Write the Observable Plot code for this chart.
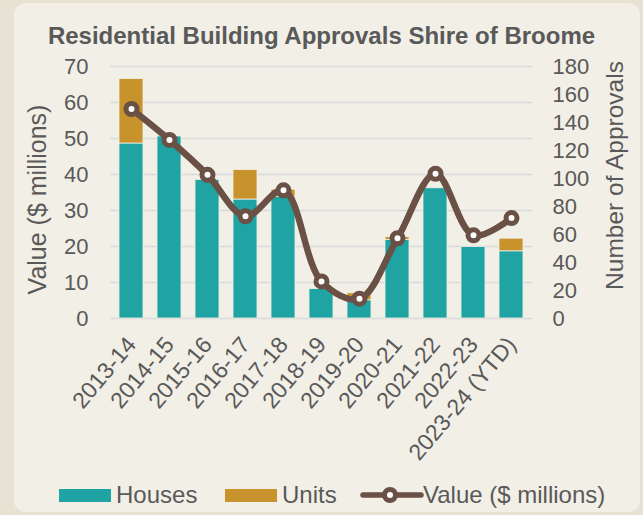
<!DOCTYPE html>
<html>
<head>
<meta charset="utf-8">
<script src="https://cdn.jsdelivr.net/npm/d3@7"></script>
<script src="https://cdn.jsdelivr.net/npm/@observablehq/plot@0.6"></script>
<style>
  html, body { margin: 0; padding: 0; }
  body { width: 643px; height: 515px; overflow: hidden; background: #E8E2D4; position: relative;
         font-family: "Liberation Sans", Arial, sans-serif; color: #595959; }
  #panel { position: absolute; left: 14px; top: 3px; width: 626px; height: 509px; background: #F2EFE7; border-radius: 12px; }
  #title { position: absolute; left: 0; top: 22px; width: 643px; text-align: center; font-weight: bold; font-size: 24px; line-height: 28px; }
  #chart { position: absolute; left: 0; top: 50px; }
  .lg { position: absolute; font-size: 24px; line-height: 26px; top: 482px; }
  .sw { position: absolute; top: 489px; width: 52px; height: 13px; }
</style>
</head>
<body>
<div id="panel"></div>
<div id="title">Residential Building Approvals Shire of Broome</div>
<div id="chart"></div>
<div class="sw" style="left:59px;background:#1FA3A3"></div>
<div class="lg" style="left:116px">Houses</div>
<div class="sw" style="left:225px;background:#C8922C"></div>
<div class="lg" style="left:282px">Units</div>
<svg style="position:absolute;left:360px;top:485px" width="64" height="20">
  <line x1="3" y1="10" x2="61" y2="10" stroke="#6B5045" stroke-width="5.5" stroke-linecap="round"/>
  <circle cx="30" cy="10" r="5.5" fill="#fff" stroke="#6B5045" stroke-width="5"/>
</svg>
<div class="lg" style="left:423px">Value ($ millions)</div>
<script>
const years = ["2013-14","2014-15","2015-16","2016-17","2017-18","2018-19","2019-20","2020-21","2021-22","2022-23","2023-24 (YTD)"];
const houses = [125, 130, 99, 85, 87, 21, 13, 56, 93, 51, 48];
const units = [46, 0, 0, 21, 5, 0, 5, 2, 0, 0, 9];
const valueMillions = [58.2, 49.6, 39.9, 28.4, 35.6, 10.3, 5.5, 22.3, 40.2, 23.1, 27.9];
const leftTicks = [0, 10, 20, 30, 40, 50, 60, 70];
const rightTicks = [0, 20, 40, 60, 80, 100, 120, 140, 160, 180];

const leftMax = 70, rightMax = 180;
const k = leftMax / rightMax;

const barRows = [];
years.forEach((y, i) => {
  barRows.push({year: y, type: "Houses", count: houses[i]});
  barRows.push({year: y, type: "Units", count: units[i]});
});
const lineRows = years.map((y, i) => ({year: y, value: valueMillions[i]}));

const brown = "#6B5045";
const chart = Plot.plot({
  width: 643,
  height: 430,
  marginLeft: 110,
  marginRight: 111,
  marginTop: 16,
  marginBottom: 162,
  style: {fontFamily: '"Liberation Sans", Arial, sans-serif', color: "#595959", background: "transparent", overflow: "visible"},
  x: {domain: years, paddingInner: 0.375, paddingOuter: 0.1875, label: null},
  y: {domain: [0, leftMax], label: null},
  color: {domain: ["Houses", "Units"], range: ["#1FA3A3", "#C8922C"]},
  marks: [
    Plot.gridY(leftTicks, {stroke: "#D9D9D9", strokeOpacity: 1, strokeWidth: 1.5}),
    Plot.barY(barRows, {x: "year", y: d => d.count * k, fill: "type", stroke: "#F2EFE7", strokeWidth: 0.8}),
    Plot.line(lineRows, {x: "year", y: "value", curve: "catmull-rom", stroke: brown, strokeWidth: 6.5}),
    Plot.dot(lineRows, {x: "year", y: "value", r: 5.5, fill: "#fff", stroke: brown, strokeWidth: 5}),
    Plot.axisY(leftTicks, {anchor: "left", tickSize: 0, tickPadding: 22, fontSize: 22, label: null}),
    Plot.axisY(rightTicks.map(v => v * k), {anchor: "right", tickSize: 0, tickPadding: 20, fontSize: 22, label: null,
      tickFormat: d => String(Math.round(d / k))}),
    Plot.axisX({tickRotate: -50, tickSize: 0, tickPadding: 22, fontSize: 23, label: null}),
    Plot.text(["Value ($ millions)"], {frameAnchor: "left", textAnchor: "middle", rotate: -90, dx: -73, dy: 7, fontSize: 25, fill: "#595959"}),
    Plot.text(["Number of Approvals"], {frameAnchor: "right", textAnchor: "middle", rotate: -90, dx: 83, dy: -17, fontSize: 24.5, fill: "#595959"})
  ]
});
document.getElementById("chart").appendChild(chart);
</script>
</body>
</html>
